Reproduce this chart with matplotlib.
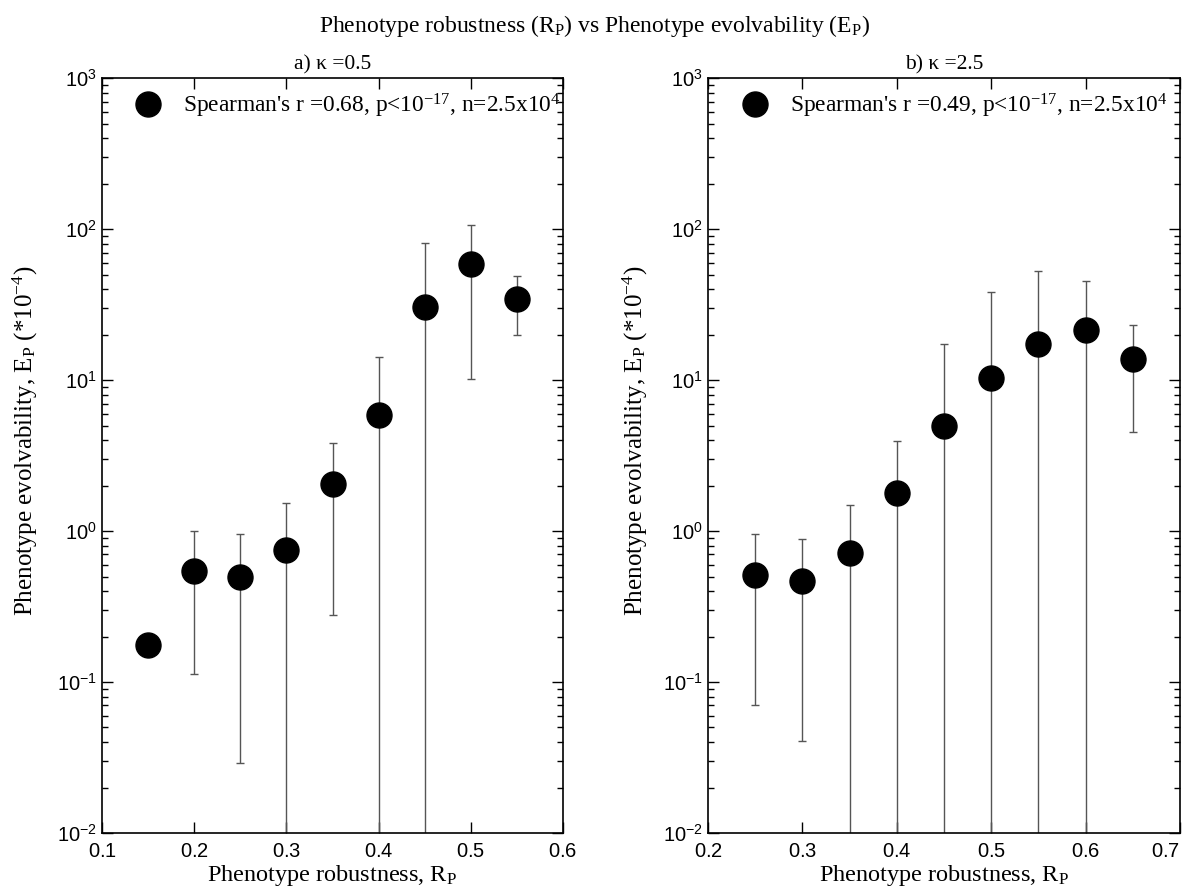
import numpy as np
import matplotlib
matplotlib.use('Agg')
import matplotlib.pyplot as plt
from matplotlib.ticker import FuncFormatter, LogLocator, NullFormatter

plt.rcParams['font.family'] = 'Liberation Serif'
plt.rcParams['mathtext.fontset'] = 'custom'
plt.rcParams['mathtext.rm'] = 'Liberation Serif'
plt.rcParams['mathtext.it'] = 'Liberation Serif:italic'
plt.rcParams['mathtext.sf'] = 'Liberation Sans'

# Panel a) kappa = 0.5 : mean, lower and upper end of error bar (0 = reaches zero)
rp_a = [0.15, 0.20, 0.25, 0.30, 0.35, 0.40, 0.45, 0.50, 0.55]
ep_a = [0.175, 0.54, 0.50, 0.745, 2.06, 5.84, 30.6, 58.4, 34.4]
lo_a = [0.175, 0.113, 0.029, 0, 0.279, 0, 0, 10.2, 19.8]
hi_a = [0.175, 1.0, 0.96, 1.54, 3.83, 14.2, 81.3, 107, 49.1]

# Panel b) kappa = 2.5
rp_b = [0.25, 0.30, 0.35, 0.40, 0.45, 0.50, 0.55, 0.60, 0.65]
ep_b = [0.51, 0.467, 0.719, 1.79, 4.99, 10.3, 17.4, 21.4, 13.9]
lo_b = [0.070, 0.0407, 0, 0, 0, 0, 0, 0, 4.5]
hi_b = [0.95, 0.89, 1.50, 3.97, 17.4, 38.5, 52.5, 45.3, 23.1]

panels = [
    (rp_a, ep_a, lo_a, hi_a, 'a) κ =0.5',
     r"Spearman's r =0.68, p<10$^{-17}$, n=2.5x10$^{4}$", (0.1, 0.6)),
    (rp_b, ep_b, lo_b, hi_b, 'b) κ =2.5',
     r"Spearman's r =0.49, p<10$^{-17}$, n=2.5x10$^{4}$", (0.2, 0.7)),
]

fig = plt.figure(figsize=(11.89, 8.89), dpi=100)
rects = [[0.0858, 0.063, 0.3877, 0.849], [0.5955, 0.063, 0.397, 0.849]]
ylab_x = [-0.134, -0.123]

def sci(v, pos):
    return r'$\mathsf{10^{%d}}$' % int(round(np.log10(v)))

for rect, lx, (x, y, lo, hi, sub, lab, xl) in zip(rects, ylab_x, panels):
    ax = fig.add_axes(rect)
    x = np.array(x); y = np.array(y)
    lo = np.array(lo, dtype=float); hi = np.array(hi)
    lo_draw = np.where(lo <= 0, 1e-4, lo)
    yerr = [y - lo_draw, hi - y]
    ax.errorbar(x, y, yerr=yerr, fmt='none', ecolor='#555555', elinewidth=1,
                capsize=3, capthick=1)
    ax.plot(x, y, 'o', color='black', markersize=18, label=lab)
    ax.set_yscale('log')
    ax.set_ylim(1e-2, 1e3)
    ax.set_xlim(*xl)
    ax.set_xticks(np.round(np.arange(xl[0], xl[1] + 0.01, 0.1), 1))
    ax.xaxis.set_major_formatter(FuncFormatter(lambda v, p: r'$\mathsf{%.1f}$' % v))
    ax.yaxis.set_major_locator(LogLocator(base=10, numticks=10))
    ax.yaxis.set_minor_locator(LogLocator(base=10, subs=np.arange(2, 10), numticks=20))
    ax.yaxis.set_major_formatter(FuncFormatter(sci))
    ax.yaxis.set_minor_formatter(NullFormatter())
    ax.tick_params(which='both', direction='in', top=True, right=True, labelsize=14.5)
    ax.tick_params(which='major', length=8, width=1)
    ax.tick_params(which='minor', length=4, width=1)
    ax.tick_params(axis='x', pad=7)
    for s in ax.spines.values():
        s.set_linewidth(1.2)
    ax.set_title(sub, fontsize=15.5, pad=6)
    ax.set_xlabel(r'Phenotype robustness, R$_\mathrm{P}$', fontsize=17.5, labelpad=1)
    ax.set_ylabel(r'Phenotype evolvability, E$_\mathrm{P}$ (*10$^{-4}$)', fontsize=18)
    ax.yaxis.set_label_coords(lx, 0.52)
    ax.legend(loc='upper left', bbox_to_anchor=(0.032, 0.995), borderaxespad=0,
              frameon=False, fontsize=16.8, handletextpad=0.55, handlelength=1.9)

fig.canvas.draw()
fig.axes[1].get_xticklabels()[-1].set_ha('right')

fig.suptitle(r'Phenotype robustness (R$_\mathrm{P}$) vs Phenotype evolvability (E$_\mathrm{P}$)',
             fontsize=17, y=0.985)

plt.savefig('out.png', dpi=100)
